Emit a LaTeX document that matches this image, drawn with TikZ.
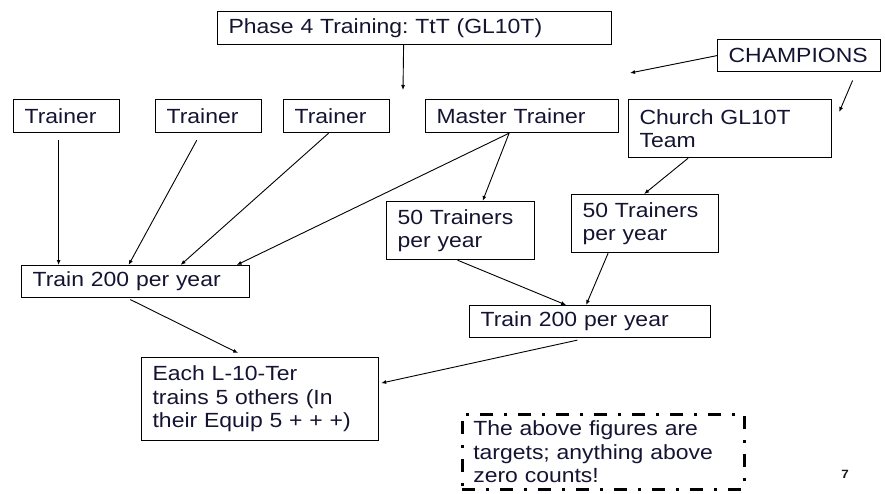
\documentclass[tikz,border=0pt]{standalone}
\usepackage{fontspec}
\setmainfont{Liberation Sans}[FakeStretch=1.12]
\usepackage{tikz}
\usetikzlibrary{arrows.meta,calc}
\definecolor{inkblue}{RGB}{20, 20, 50}
\definecolor{notegray}{RGB}{25, 25, 25}
\newcommand{\slidefont}{\frenchspacing\fontsize{20.5}{23.5}\selectfont}

\begin{document}
\begin{tikzpicture}[x=1pt, y=-1pt,
    box/.style={draw, line width=1.2pt, anchor=north west, align=left,
        inner xsep=11pt, inner ysep=3pt, text=inkblue, font=\slidefont},
    arr/.style={-{Latex[length=5pt,width=4pt]}, line width=0.9pt}]
\useasboundingbox (0,0) rectangle (885,493);

% top row
\node[box, text width=372pt, minimum height=33pt] (phase) at (217,11) {Phase 4 Training: TtT (GL10T)};
\node[box, text width=141pt, minimum height=32pt] (champ) at (717,39) {CHAMPIONS};
\node[box, text width=84pt, minimum height=33pt] (t1) at (13,99) {Trainer};
\node[box, text width=84pt, minimum height=33pt] (t2) at (155,99) {Trainer};
\node[box, text width=84pt, minimum height=33pt] (t3) at (283,99) {Trainer};
\node[box, text width=171pt, minimum height=33pt] (master) at (425,99) {Master Trainer};
\node[box, text width=181pt, minimum height=58pt] (church) at (628,99) {Church GL10T\\Team};

% middle
\node[box, text width=126pt, minimum height=58pt] (fiftyL) at (386,201) {50 Trainers\\per year};
\node[box, text width=125pt, minimum height=58pt] (fiftyR) at (571,194) {50 Trainers\\per year};
\node[box, text width=206pt, minimum height=32pt] (trainL) at (21,265) {Train 200 per year};
\node[box, text width=219pt, minimum height=32pt] (trainR) at (469,305) {Train 200 per year};

% bottom
\node[box, text width=215pt, minimum height=83pt] (each) at (141,357) {Each L-10-Ter\\trains 5 others (In\\their Equip 5 + + +)};
\node[box, text width=260pt, line width=2.6pt, inner ysep=6.5pt,
      dash pattern=on 13pt off 11pt on 3pt off 11pt] (note) at (461,413)
      {The above figures are\\targets; anything above\\zero counts!};
\node[font=\fontsize{12}{14}\selectfont\bfseries, text=notegray] (pagenum) at (845,474) {7};

\coordinate (phaseend) at (403,90);
\coordinate (champend) at (630,73);

% connectors
\draw[arr] ([xshift=-11pt]phase.south) -- (phaseend);
\draw[arr] (champ.west) -- (champend);
\draw[arr, shorten <=9pt] ([xshift=57pt]champ.south) -- ([shift={(7pt,-13pt)}]church.north east);
\draw[arr, shorten <=7pt] ([xshift=-8pt]t1.south) -- ([xshift=-77pt]trainL.north);
\draw[arr, shorten <=8pt] ([xshift=-8pt]t2.south) -- ([xshift=-7pt]trainL.north);
\draw[arr] ([xshift=-8pt]t3.south) -- ([xshift=45pt]trainL.north);
\draw[arr] ([xshift=-13pt]master.south) -- ([xshift=101pt]trainL.north);
\draw[arr] ([xshift=-13pt]master.south) -- ([xshift=22pt]fiftyL.north);
\draw[arr] ([xshift=-42pt]church.south) -- ([xshift=-1pt]fiftyR.north);
\draw[arr] ([xshift=-3pt]fiftyL.south) -- ([xshift=-24pt]trainR.north);
\draw[arr] ([xshift=-37pt]fiftyR.south) -- ([xshift=-4pt]trainR.north);
\draw[arr, shorten <=3pt] ([xshift=-8pt]trainL.south) -- ([shift={(-22pt,4pt)}]each.north);
\draw[arr, shorten <=9pt] ([xshift=-4pt]trainR.south) -- ([shift={(2pt,16pt)}]each.east);
\end{tikzpicture}
\end{document}
